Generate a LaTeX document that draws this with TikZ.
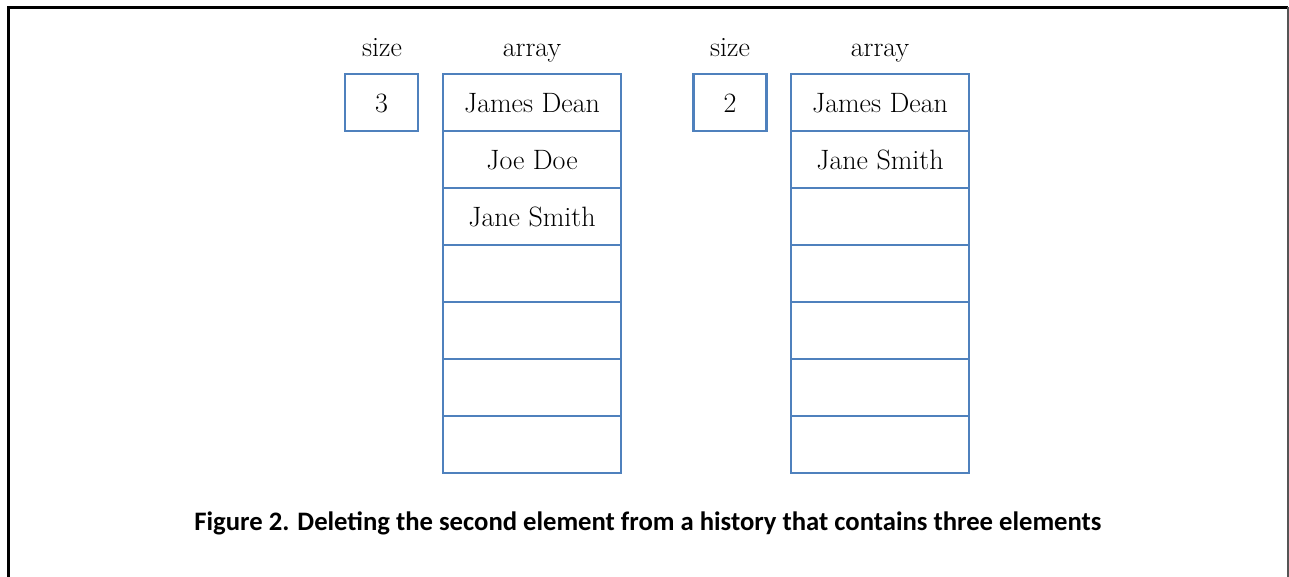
\documentclass[tikz,border=0pt]{standalone}
\usepackage{fontspec}
\newfontfamily\capfont{Carlito}
\definecolor{boxblue}{HTML}{4F81BD}
\definecolor{framegray}{HTML}{555555}
\begin{document}
\begin{tikzpicture}[x=0.75pt,y=-0.75pt,
  txt/.style={font=\fontsize{21}{24}\selectfont, text height=14.3pt, text depth=0pt},
  cell/.style={txt, draw=boxblue, line width=2pt, minimum width=133.5pt, minimum height=42.75pt, inner sep=0pt, outer sep=0pt},
  sizebox/.style={cell, minimum width=54.75pt},
  lbl/.style={txt, inner sep=0pt},
  caption/.style={inner sep=0pt, font=\capfont\bfseries\fontsize{20}{24}\selectfont}]
\useasboundingbox (0,0) rectangle (1289,576);
% frame
\draw[line width=2.25pt] (8,580) -- (8,7) -- (1288,7);
\draw[framegray, line width=1pt] (1288,7) -- (1288,580);
% left state
\node[lbl] (ls) at (382,46.5) {size};
\node[lbl] (la) at (532,46.5) {array};
\node[sizebox] (lsize) at (381.5,102.5) {3};
\node[cell] (l1) at (532,102.5) {James Dean};
\node[cell] (l2) at (532,159.5) {Joe Doe};
\node[cell] (l3) at (532,216.5) {Jane Smith};
\node[cell] (l4) at (532,273.5) {};
\node[cell] (l5) at (532,330.5) {};
\node[cell] (l6) at (532,387.5) {};
\node[cell] (l7) at (532,444.5) {};
% right state
\node[lbl] (rs) at (730,46.5) {size};
\node[lbl] (ra) at (880,46.5) {array};
\node[sizebox] (rsize) at (730,102.5) {2};
\node[cell] (r1) at (880,102.5) {James Dean};
\node[cell] (r2) at (880,159.5) {Jane Smith};
\node[cell] (r3) at (880,216.5) {};
\node[cell] (r4) at (880,273.5) {};
\node[cell] (r5) at (880,330.5) {};
\node[cell] (r6) at (880,387.5) {};
\node[cell] (r7) at (880,444.5) {};
% caption
\node[caption] (cap) at (648,523) {Figure 2. Deleting the second element from a history that contains three elements};
\end{tikzpicture}
\end{document}
